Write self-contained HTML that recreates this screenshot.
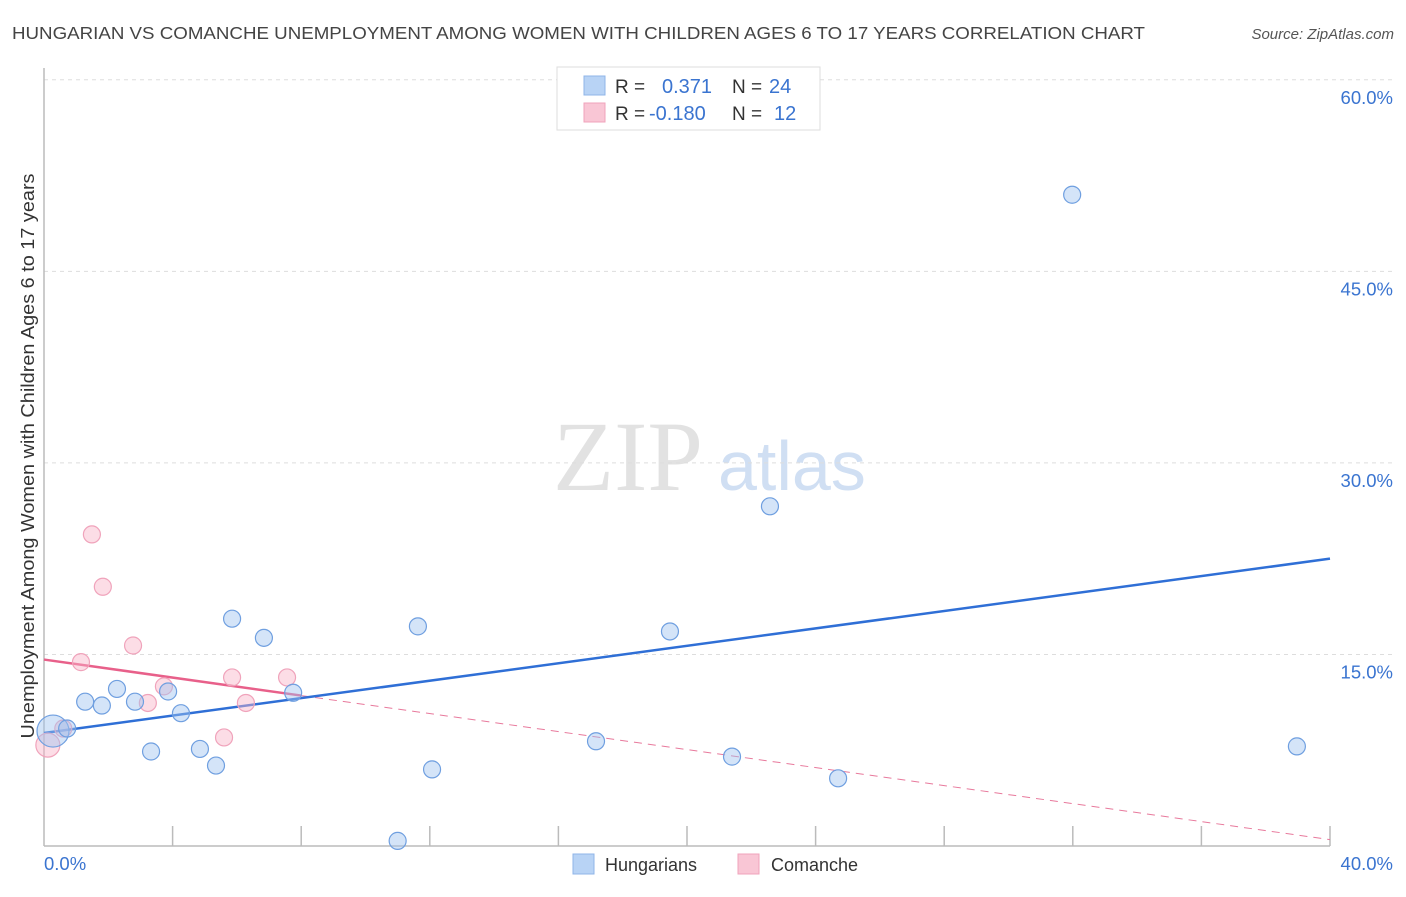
<!DOCTYPE html>
<html><head><meta charset="utf-8"><style>
body{margin:0;background:#fff;font-family:"Liberation Sans",sans-serif;}
svg text{font-family:"Liberation Sans",sans-serif;}
</style></head><body>
<svg id="chart" width="1406" height="892">
<text x="12" y="39" font-size="17.5" fill="#444" textLength="1133" lengthAdjust="spacingAndGlyphs">HUNGARIAN VS COMANCHE UNEMPLOYMENT AMONG WOMEN WITH CHILDREN AGES 6 TO 17 YEARS CORRELATION CHART</text>
<text x="1394" y="39" font-size="15" fill="#555" font-style="italic" text-anchor="end">Source: ZipAtlas.com</text>
<g>
<text x="553" y="490" font-size="100" fill="#e2e2e2" font-family="Liberation Serif, serif" style="font-family:'Liberation Serif',serif">ZIP</text>
<text x="718" y="490" font-size="70" fill="#d0dff3">atlas</text>
</g>
<g id="grid"></g>
<g id="axes"></g>
<g id="trends"></g>
<g id="points"></g>
<text transform="translate(34,456) rotate(-90)" font-size="18" fill="#333" text-anchor="middle" textLength="565" lengthAdjust="spacingAndGlyphs">Unemployment Among Women with Children Ages 6 to 17 years</text>
<g>
<rect x="557" y="67" width="263" height="63" fill="#fff" stroke="#ddd"/>
<rect x="584" y="76" width="21" height="19" fill="#b8d3f5" stroke="#8fb4e8"/>
<rect x="584" y="103" width="21" height="19" fill="#f9c6d5" stroke="#f0a3bb"/>
<text x="615" y="93" font-size="19" fill="#333">R =</text>
<text x="662" y="93" font-size="20" fill="#3a74d0">0.371</text>
<text x="732" y="93" font-size="19" fill="#333">N =</text>
<text x="769" y="93" font-size="20" fill="#3a74d0">24</text>
<text x="615" y="120" font-size="19" fill="#333">R =</text>
<text x="649" y="120" font-size="20" fill="#3a74d0">-0.180</text>
<text x="732" y="120" font-size="19" fill="#333">N =</text>
<text x="774" y="120" font-size="20" fill="#3a74d0">12</text>
</g>
<g>
<rect x="573" y="854" width="21" height="20" fill="#b8d3f5" stroke="#8fb4e8"/>
<text x="605" y="871" font-size="18" fill="#333">Hungarians</text>
<rect x="738" y="854" width="21" height="20" fill="#f9c6d5" stroke="#f0a3bb"/>
<text x="771" y="871" font-size="18" fill="#333">Comanche</text>
</g>
</svg>
<script>
const yTicks=[15,30,45,60];
const yTickLabels=["15.0%","30.0%","45.0%","60.0%"];
const xTickLabels=["0.0%","40.0%"];
const blueX=[0.28,0.72,1.28,1.8,2.27,2.83,3.33,3.86,4.26,4.85,5.35,5.85,6.84,7.75,11.0,11.63,12.07,17.17,19.47,21.4,22.58,24.7,31.98,38.97];
const blueY=[9.0,9.2,11.3,11.0,12.3,11.3,7.4,12.1,10.4,7.6,6.3,17.8,16.3,12.0,0.4,17.2,6.0,8.2,16.8,7.0,26.6,5.3,51.0,7.8];
const pinkX=[0.12,0.6,1.15,1.49,1.83,2.77,3.23,3.73,5.6,5.85,6.28,7.56];
const pinkY=[7.9,9.2,14.4,24.4,20.3,15.7,11.2,12.5,8.5,13.2,11.2,13.2];
const blueTrend=[8.85,22.5];
const pinkTrend=[14.6,0.5];
const pinkSolidEnd=8;
const NS="http://www.w3.org/2000/svg";
const X0=44,X1=1330,Y0=846,PY=12.77;
const sx=v=>X0+v/40*(X1-X0);
const sy=v=>Y0-v*PY;
function mk(tag,attrs,parent){const e=document.createElementNS(NS,tag);for(const k in attrs)e.setAttribute(k,attrs[k]);document.getElementById(parent).appendChild(e);return e;}
yTicks.forEach((t,i)=>{
 const l=mk('line',{x1:X0,x2:1394,y1:sy(t),y2:sy(t),stroke:'#ddd','stroke-dasharray':'4,4'},'grid');
 
 
 const tx=mk('text',{x:1393,y:sy(t)+24,'font-size':18.5,fill:'#3a74d0','text-anchor':'end'},'grid');
 tx.textContent=yTickLabels[i];
 
 
});
const ax=mk('line',{x1:X0,x2:X0,y1:68,y2:Y0,stroke:'#bbb','stroke-width':1.5},'axes');


const bx=mk('line',{x1:X0,x2:X1,y1:Y0,y2:Y0,stroke:'#bbb','stroke-width':1.5},'axes');


for(let v=4;v<=40;v+=4){
 const t=mk('line',{x1:sx(v),x2:sx(v),y1:Y0,y2:Y0-20,stroke:'#bbb','stroke-width':1.5},'axes');
 
 
}
[[0,'start',44],[40,'end',1393]].forEach((d,i)=>{
 const t=mk('text',{x:d[2],y:870,'font-size':18.5,fill:'#3a74d0','text-anchor':d[1]},'axes');
 t.textContent=xTickLabels[i];
 
 
});
const pv=x=>pinkTrend[0]+(pinkTrend[1]-pinkTrend[0])*x/40;
const pd=mk('line',{x1:sx(pinkSolidEnd),y1:sy(pv(pinkSolidEnd)),x2:sx(40),y2:sy(pinkTrend[1]),stroke:'#e8799c','stroke-width':1,'stroke-dasharray':'8,6'},'trends');


function dots(xs,ys,fill,stroke,name,big){
 xs.forEach((x,i)=>{
  const c=mk('circle',{cx:sx(x),cy:sy(ys[i]),r:i===0?big:8.5,fill:fill,stroke:stroke,'stroke-width':1.2},'points');
  
  
 });
}
dots(pinkX,pinkY,'rgba(248,180,200,0.45)','#f0a3bb','comanche-point',12);
dots(blueX,blueY,'rgba(160,195,240,0.45)','#6f9fe0','hungarian-point',16);
const bt=mk('line',{x1:sx(0),y1:sy(blueTrend[0]),x2:sx(40),y2:sy(blueTrend[1]),stroke:'#2f6fd6','stroke-width':2.5},'trends');


const ps=mk('line',{x1:sx(0),y1:sy(pinkTrend[0]),x2:sx(pinkSolidEnd),y2:sy(pv(pinkSolidEnd)),stroke:'#e8608a','stroke-width':2.5},'trends');


</script>
</body></html>
